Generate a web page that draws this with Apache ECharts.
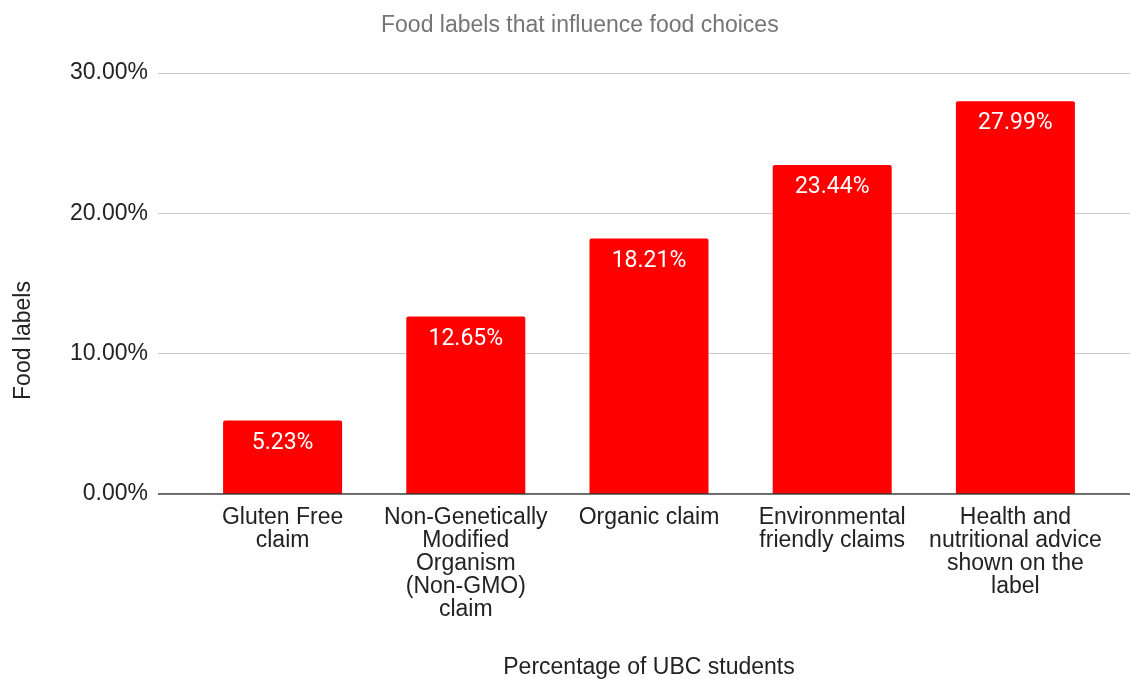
<!DOCTYPE html>
<html>
<head>
<meta charset="utf-8">
<script src="https://cdn.jsdelivr.net/npm/echarts@6/dist/echarts.min.js"></script>
<style>
  html, body { margin: 0; padding: 0; background: #fff; }
  #chart { width: 1130px; height: 679px; }
</style>
</head>
<body>
<div id="chart"></div>
<script>
// categories and values
const categories = [
  "Gluten Free\nclaim",
  "Non-Genetically\nModified\nOrganism\n(Non-GMO)\nclaim",
  "Organic claim",
  "Environmental\nfriendly claims",
  "Health and\nnutritional advice\nshown on the\nlabel"
];
const shares = [5.23, 12.65, 18.21, 23.44, 27.99];
const yTicks = [0, 10, 20, 30];

const chart = echarts.init(document.getElementById("chart"));
const font = "Arial, 'Liberation Sans', sans-serif";

chart.setOption({
  animation: false,
  title: {
    text: "Food labels that influence food choices",
    left: 376,
    top: 9,
    textStyle: { color: "#757575", fontSize: 23, fontWeight: "normal", fontFamily: font }
  },
  // grid 0 only draws the full-width gridlines and the y labels,
  // grid 1 holds the bars
  grid: [
    { left: 158, right: 0, top: 73, bottom: 185, outerBoundsMode: "none" },
    { left: 191, right: 23, top: 73, bottom: 185, outerBoundsMode: "none" }
  ],
  xAxis: [
    {
      gridIndex: 0, type: "value", min: 0, max: 1, show: false
    },
    {
      gridIndex: 1,
      type: "category",
      data: categories,
      axisLine: { show: false },
      axisTick: { show: false },
      axisLabel: {
        interval: 0,
        margin: 12,
        color: "#222",
        fontSize: 23,
        lineHeight: 23,
        fontFamily: font
      },
      name: "Percentage of UBC students",
      nameLocation: "middle",
      nameGap: 162,
      nameTextStyle: { color: "#222", fontSize: 23, fontFamily: font }
    }
  ],
  yAxis: [
    {
      gridIndex: 0,
      type: "value",
      min: yTicks[0],
      max: yTicks[yTicks.length - 1],
      interval: 10,
      axisLine: { show: false },
      axisTick: { show: false },
      axisLabel: {
        margin: 10,
        color: "#222",
        fontSize: 23,
        fontFamily: font,
        formatter: v => v.toFixed(2) + "%"
      },
      splitLine: { lineStyle: { color: "#ccc", width: 1 } },
      name: "Food labels",
      nameLocation: "middle",
      nameGap: 123,
      nameRotate: 90,
      nameTextStyle: {
        color: "#222", fontSize: 23, fontFamily: font,
        padding: [0, 114, 0, 0]
      }
    },
    {
      gridIndex: 1,
      type: "value",
      min: 0,
      max: 30,
      show: false
    }
  ],
  series: [
    {
      // the dark baseline across the full width
      type: "line",
      xAxisIndex: 0,
      yAxisIndex: 0,
      data: [[0, 0], [1, 0]],
      symbol: "none",
      lineStyle: { color: "#333", width: 1.5 },
      silent: true
    },
    {
      type: "bar",
      xAxisIndex: 1,
      yAxisIndex: 1,
      data: shares,
      barWidth: 119,
      itemStyle: { color: "#ff0000", borderRadius: [2, 2, 0, 0] },
      label: {
        show: true,
        position: "insideTop",
        distance: 11,
        color: "#fff",
        fontSize: 23,
        fontFamily: "Roboto, sans-serif",
        formatter: p => p.value.toFixed(2) + "%"
      }
    }
  ]
});
</script>
</body>
</html>
